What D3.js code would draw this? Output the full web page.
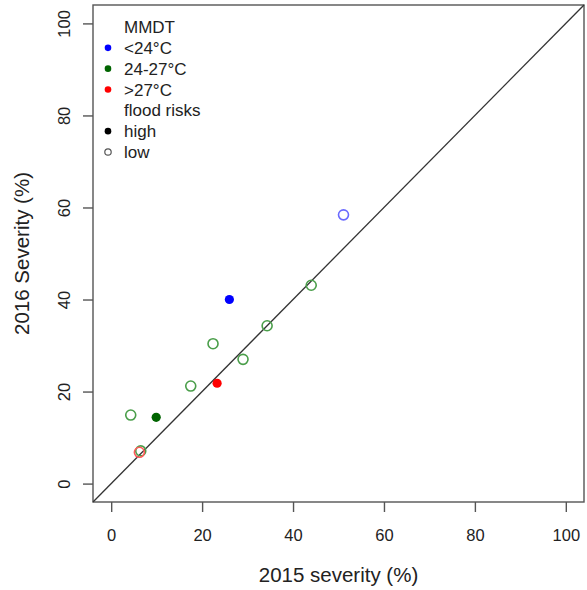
<!DOCTYPE html>
<html>
<head>
<meta charset="utf-8">
<script src="https://cdn.jsdelivr.net/npm/d3@7"></script>
<style>
  body { margin: 0; background: #fff; }
  text { font-family: "Liberation Sans", Arial, sans-serif; fill: #222; }
</style>
</head>
<body>
<svg id="chart" width="587" height="590"></svg>
<script>
// Data
const severity2015 = [44.0, 34.3, 22.4, 29.0, 17.5, 4.3, 6.5, 51.1, 26.0, 9.9, 23.3, 6.2];
const severity2016 = [43.1, 34.3, 30.4, 27.0, 21.2, 14.9, 7.1, 58.4, 40.0, 14.4, 21.8, 6.8];
const mmdt         = ["24-27", "24-27", "24-27", "24-27", "24-27", "24-27", "24-27", "<24", "<24", "24-27", ">27", ">27"];
const floodRisk    = ["low", "low", "low", "low", "low", "low", "low", "low", "high", "high", "high", "low"];
const xTicks = [0, 20, 40, 60, 80, 100];
const yTicks = [0, 20, 40, 60, 80, 100];
const mmdtClasses = ["<24", "24-27", ">27"];
const mmdtLabels = ["<24°C", "24-27°C", ">27°C"];
const floodClasses = ["high", "low"];

const fillColor = d3.scaleOrdinal().domain(mmdtClasses).range(["#0000ff", "#006400", "#ff0000"]);
const openColor = d3.scaleOrdinal().domain(mmdtClasses).range(["#6a6aff", "#4a9e4a", "#ff5a5a"]);

const svg = d3.select("#chart");
const pLeft = 93, pRight = 584, pTop = 5, pBottom = 502;
const x = d3.scaleLinear().domain([-4, 104]).range([pLeft, pRight]);
const y = d3.scaleLinear().domain([-4, 104]).range([pBottom, pTop]);

// Box
svg.append("rect").attr("x", pLeft).attr("y", pTop).attr("width", pRight - pLeft).attr("height", pBottom - pTop)
  .attr("fill", "none").attr("stroke", "#555").attr("stroke-width", 1.4);

// Axes
const xAxis = d3.axisBottom(x).tickValues(xTicks).tickSize(10).tickPadding(0).tickFormat(d3.format("d"));
const gx = svg.append("g").attr("transform", `translate(0,${pBottom})`).call(xAxis);
gx.select(".domain").remove();
gx.selectAll(".tick line").attr("stroke", "#555").attr("stroke-width", 1.4);
gx.selectAll(".tick text").attr("y", 39).attr("dy", null).attr("font-size", 16.5).style("font-family", '"Liberation Sans", Arial, sans-serif').attr("fill", "#222");

const yAxis = d3.axisLeft(y).tickValues(yTicks).tickSize(10).tickFormat(d3.format("d"));
const gy = svg.append("g").attr("transform", `translate(${pLeft},0)`).call(yAxis);
gy.select(".domain").remove();
gy.selectAll(".tick line").attr("stroke", "#555").attr("stroke-width", 1.4);
gy.selectAll(".tick text")
  .attr("x", null).attr("dy", null)
  .attr("transform", "translate(-23,0) rotate(-90)")
  .attr("text-anchor", "middle").attr("y", 0)
  .attr("font-size", 16.5).style("font-family", '"Liberation Sans", Arial, sans-serif').attr("fill", "#222");

// Axis titles
svg.append("text").attr("x", (x(-4) + x(104)) / 2).attr("y", 582).attr("text-anchor", "middle")
  .attr("font-size", 20.5).text("2015 severity (%)");
svg.append("text").attr("transform", `translate(29,${(pTop + pBottom) / 2}) rotate(-90)`).attr("text-anchor", "middle")
  .attr("font-size", 20.5).text("2016 Severity (%)");

// 1:1 line
svg.append("line").attr("x1", x(-4)).attr("y1", y(-4)).attr("x2", x(104)).attr("y2", y(104))
  .attr("stroke", "#333").attr("stroke-width", 1.3);

// Points
const pts = severity2015.map((v, i) => ({ x: v, y: severity2016[i], m: mmdt[i], f: floodRisk[i] }));
svg.append("g").selectAll("circle").data(pts).join("circle")
  .attr("cx", d => x(d.x)).attr("cy", d => y(d.y))
  .attr("r", d => d.f === "high" ? 4.6 : 5)
  .attr("fill", d => d.f === "high" ? fillColor(d.m) : "none")
  .attr("stroke", d => d.f === "high" ? "none" : openColor(d.m))
  .attr("stroke-width", 1.6);

// Legend
const legendItems = [
  { label: "MMDT", type: "title" },
  ...mmdtClasses.map((c, i) => ({ label: mmdtLabels[i], type: "fill", color: fillColor(c) })),
  { label: "flood risks", type: "title" },
  { label: "high", type: "fill", color: "#000" },
  { label: "low", type: "open", color: "#555" }
];
const lg = svg.append("g");
const rowY = d3.scaleLinear().domain([0, 6]).range([27, 152]);
legendItems.forEach((it, i) => {
  const cy = rowY(i);
  if (it.type === "fill") {
    lg.append("circle").attr("cx", 108).attr("cy", cy).attr("r", 3.3).attr("fill", it.color);
  } else if (it.type === "open") {
    lg.append("circle").attr("cx", 108).attr("cy", cy).attr("r", 3.2).attr("fill", "none")
      .attr("stroke", it.color).attr("stroke-width", 1.2);
  }
  lg.append("text").attr("x", 124).attr("y", cy + 6).attr("font-size", 17).text(it.label);
});
</script>
</body>
</html>
